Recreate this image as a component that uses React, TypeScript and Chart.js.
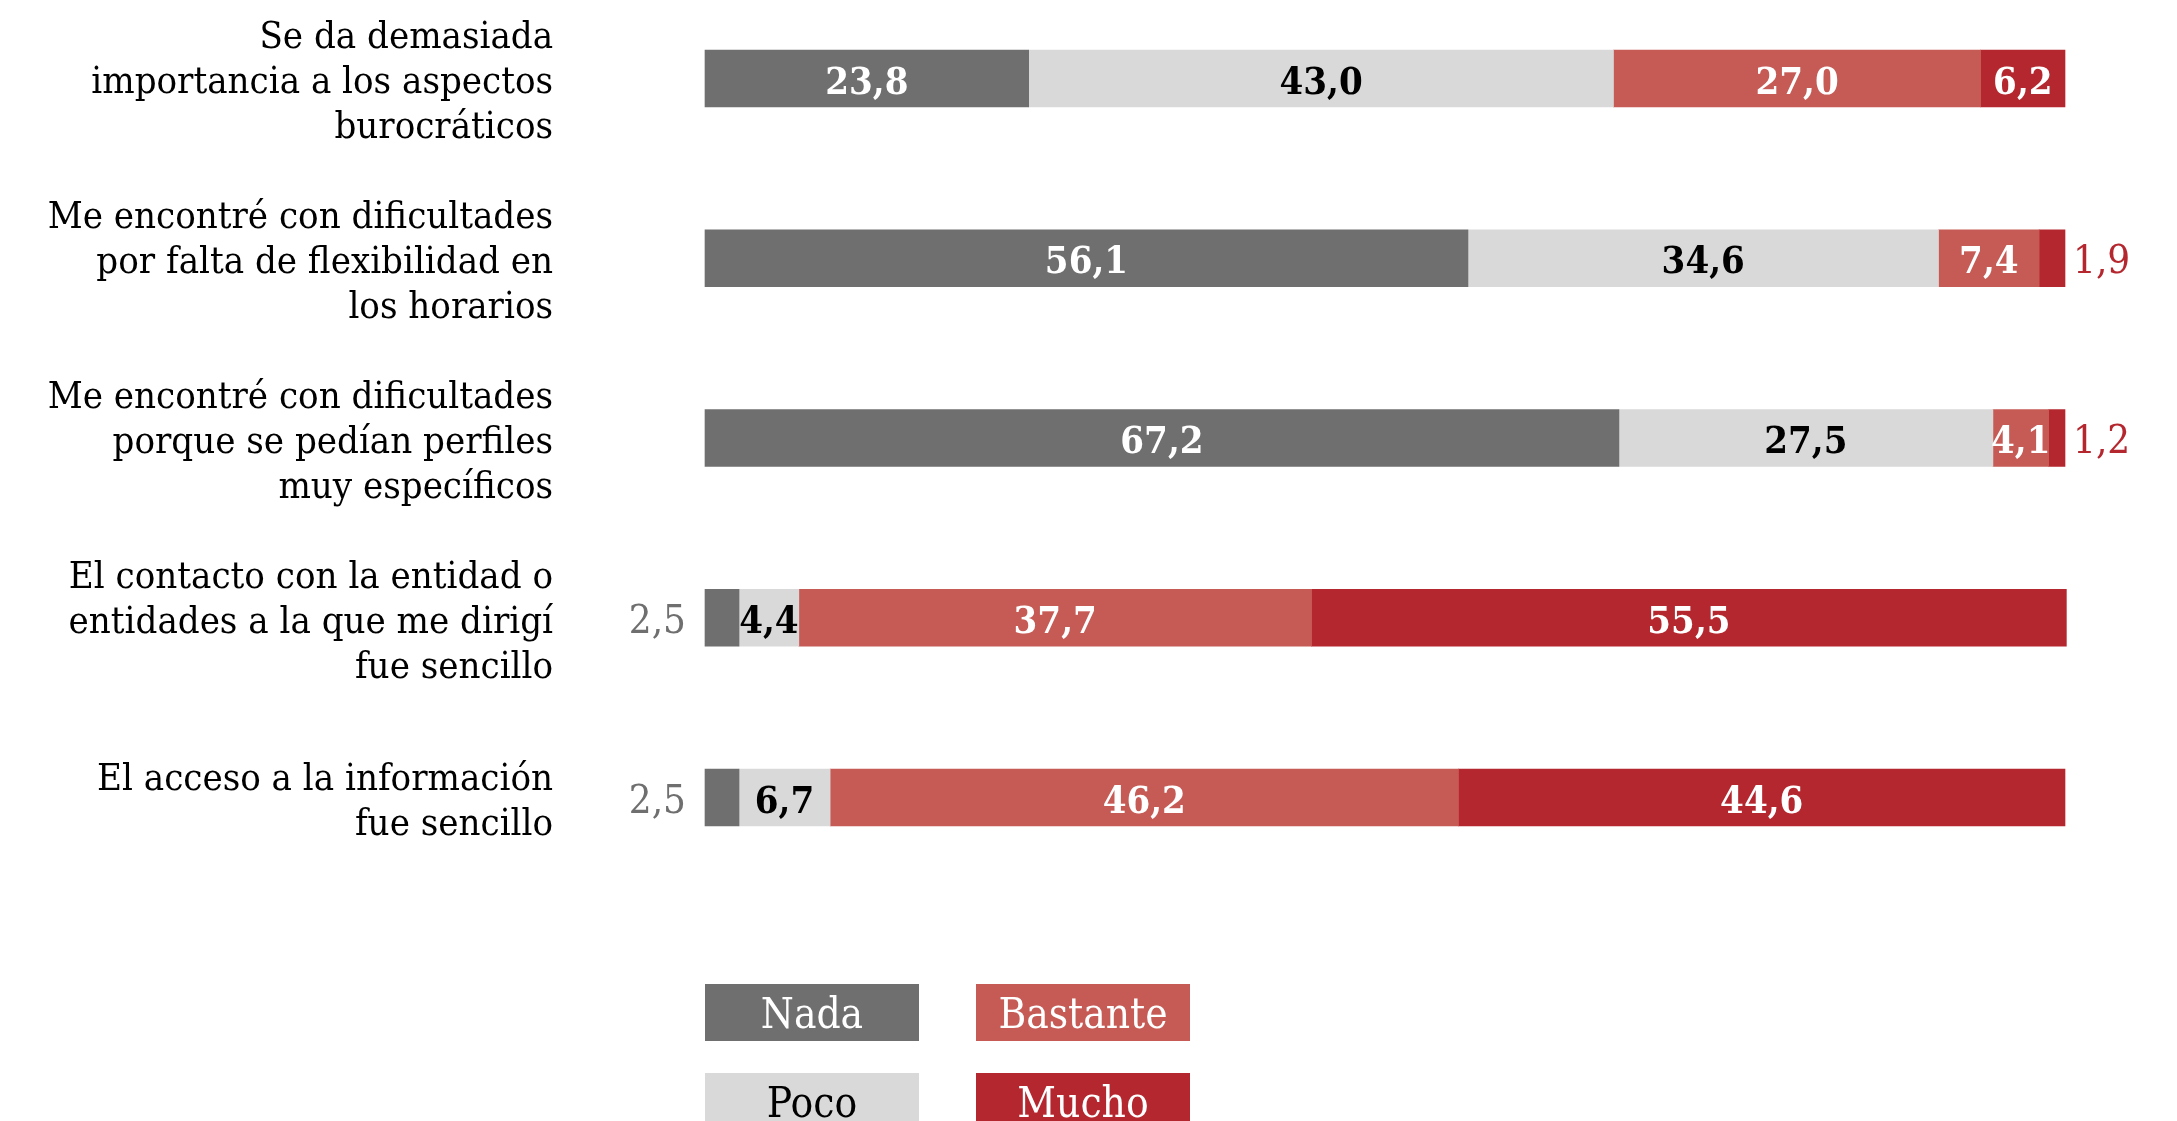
import React, { useEffect, useRef } from 'react';
import { Chart, registerables } from 'chart.js';

Chart.register(...registerables);

const categories: string[][] = [
  ['Se da demasiada', 'importancia a los aspectos', 'burocráticos'],
  ['Me encontré con dificultades', 'por falta de flexibilidad en', 'los horarios'],
  ['Me encontré con dificultades', 'porque se pedían perfiles', 'muy específicos'],
  ['El contacto con la entidad o', 'entidades a la que me dirigí', 'fue sencillo'],
  ['El acceso a la información', 'fue sencillo'],
];

const seriesNames = ['Nada', 'Poco', 'Bastante', 'Mucho'];
const nada = [23.8, 56.1, 67.2, 2.5, 2.5];
const poco = [43.0, 34.6, 27.5, 4.4, 6.7];
const bastante = [27.0, 7.4, 4.1, 37.7, 46.2];
const mucho = [6.2, 1.9, 1.2, 55.5, 44.6];

const seriesColors = ['#6f6f6f', '#d9d9d9', '#c65a55', '#b5272e'];
const textColors = ['#ffffff', '#000000', '#ffffff', '#ffffff'];

const FONT = "'DejaVu Serif Condensed', 'DejaVu Serif', serif";

const fmt = (v: number) => v.toFixed(1).replace('.', ',');

const valueLabels = {
  id: 'valueLabels',
  afterDatasetsDraw(chart: any) {
    const ctx = chart.ctx;
    ctx.save();
    ctx.textBaseline = 'alphabetic';
    chart.data.datasets.forEach((ds: any, di: number) => {
      const meta = chart.getDatasetMeta(di);
      meta.data.forEach((el: any, i: number) => {
        const v = ds.data[i] as number;
        const { x, y, base } = el.getProps(['x', 'y', 'base'], true);
        const txt = fmt(v);
        let px: number;
        if (v < 3) {
          ctx.font = `400 40px ${FONT}`;
          ctx.fillStyle = seriesColors[di];
          if (di === 0) {
            ctx.textAlign = 'right';
            px = Math.min(x, base) - 19;
          } else {
            ctx.textAlign = 'left';
            px = Math.max(x, base) + 8;
          }
        } else {
          ctx.font = `700 38px ${FONT}`;
          ctx.fillStyle = textColors[di];
          ctx.textAlign = 'center';
          px = (x + base) / 2;
        }
        ctx.fillText(txt, px, y + 15);
      });
    });
    ctx.restore();
  },
};

const boxLegend = {
  id: 'boxLegend',
  afterDraw(chart: any) {
    const ctx = chart.ctx;
    const area = chart.chartArea;
    ctx.save();
    ctx.textAlign = 'center';
    ctx.textBaseline = 'alphabetic';
    ctx.font = `400 42px ${FONT}`;
    chart.data.datasets.forEach((ds: any, i: number) => {
      const col = Math.floor(i / 2);
      const row = i % 2;
      const bx = area.left + col * 271;
      const by = area.bottom + 186.5 + row * 89;
      ctx.fillStyle = ds.backgroundColor;
      ctx.fillRect(bx, by, 214, 57);
      ctx.fillStyle = textColors[i];
      ctx.fillText(ds.label, bx + 107, by + 28.5 + 15);
    });
    ctx.restore();
  },
};

export default function App() {
  const ref = useRef<HTMLCanvasElement | null>(null);

  useEffect(() => {
    if (!ref.current) return;
    const seriesValues = [nada, poco, bastante, mucho];
    const chart = new Chart(ref.current, {
      type: 'bar',
      data: {
        labels: categories as any,
        datasets: seriesNames.map((name, i) => ({
          label: name,
          data: seriesValues[i],
          backgroundColor: seriesColors[i],
          borderWidth: 0,
          barThickness: 57,
          clip: false as any,
        })),
      },
      options: {
        indexAxis: 'y',
        responsive: false,
        animation: false,
        layout: { padding: { top: 78.5, bottom: 323.5, left: 0, right: 112 } },
        scales: {
          x: { type: 'linear', min: 0, max: 100, stacked: true, display: false },
          y: {
            type: 'category',
            stacked: true,
            offset: false,
            grid: { display: false, drawTicks: false },
            border: { display: false },
            ticks: {
              autoSkip: false,
              padding: 152,
              labelOffset: 5,
              color: '#000000',
              font: { family: FONT, size: 38, lineHeight: 45 / 38 },
            },
            afterFit: (s: any) => {
              s.width = 705;
              s.paddingTop = 0;
              s.paddingBottom = 0;
            },
          },
        },
        plugins: {
          legend: { display: false },
          tooltip: { enabled: false },
        },
      },
      plugins: [valueLabels, boxLegend],
    });
    return () => chart.destroy();
  }, []);

  return (
    <div style={{ position: 'absolute', left: 0, top: 0, width: 2177, height: 1121, background: '#fff' }}>
      <canvas ref={ref} width={2177} height={1121} style={{ display: 'block' }} />
    </div>
  );
}
